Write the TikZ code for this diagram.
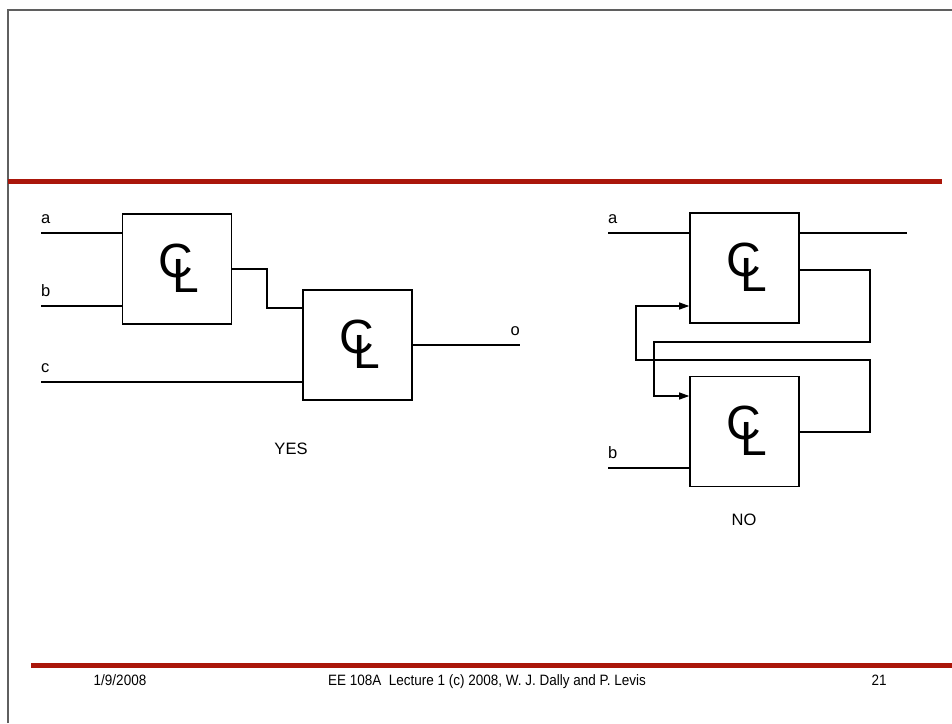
\documentclass[tikz,border=0pt]{standalone}
\usepackage{fontspec}
\setmainfont{Liberation Sans}
\usetikzlibrary{positioning,arrows.meta}

\definecolor{slidered}{RGB}{170,22,10}
\definecolor{framegray}{RGB}{95,95,95}

\tikzset{
  clbox/.style={draw, line width=1.6pt, minimum width=109pt, minimum height=110pt, inner sep=0pt},
  wire/.style={line width=1.1pt},
  fbwire/.style={wire, -{Triangle[length=10pt,width=7pt]}},
  lbl/.style={inner sep=0pt, font=\fontsize{16.5}{19}\selectfont},
  clfont/.style={inner sep=0pt, anchor=base west, font=\fontsize{48}{50}\selectfont},
  foot/.style={inner sep=0pt, anchor=base, font=\fontsize{15}{17}\selectfont, xscale=0.9},
}

% the C and L letters set over one another inside a box
\newcommand{\clglyph}[1]{%
  \node[clfont] (#1sym) at ([shift={(-18.4,8)}]#1.center) {C\kern-20.9pt\raisebox{-15.5pt}{L}};
}

\begin{document}
\begin{tikzpicture}[x=1pt,y=-1pt]
	\useasboundingbox (0,0) rectangle (952,723);

	% slide frame and bars
	\draw[framegray, line width=1.5pt] (8,723) -- (8,10) -- (952,10);
	\draw[slidered, line width=5pt] (8,181) -- (942,181);
	\draw[slidered, line width=5pt] (31,665.5) -- (952,665.5);

	% YES circuit
	\node[clbox] (cl1) at (177,269) {};
	\node[clbox] (cl2) at (357.5,345) {};
	\clglyph{cl1}
	\clglyph{cl2}

	\coordinate (ina) at (41,233);
	\coordinate (inb) at (41,306);
	\coordinate (inc) at (41,382);
	\coordinate (j1) at (267,308);
	\coordinate (outo) at (520,345);

	\draw[wire] (ina) -- (ina -| cl1.west);
	\draw[wire] (inb) -- (inb -| cl1.west);
	\draw[wire] (cl1.east) -| (j1) -- (j1 -| cl2.west);
	\draw[wire] (inc) -- (inc -| cl2.west);
	\draw[wire] (cl2.east) -- (outo);

	\node[lbl, above right=9pt and 0pt of ina] (la) {a};
	\node[lbl, above right=9pt and 0pt of inb] (lb) {b};
	\node[lbl, above right=9pt and 0pt of inc] (lc) {c};
	\node[lbl, above left=9pt and 0pt of outo] (lo) {o};
	\node[lbl] (yes) at (291,449) {YES};

	% NO circuit
	\node[clbox] (cl3) at (744.5,268) {};
	\node[clbox] (cl4) at (744.5,431.5) {};
	\clglyph{cl3}
	\clglyph{cl4}

	\coordinate (na) at (608,233);
	\coordinate (nb) at (608,468);
	\coordinate (nout) at (907,233);
	\coordinate (f1a) at (870,342);
	\coordinate (f1b) at (654,396);
	\coordinate (f2a) at (870,360);
	\coordinate (f2b) at (636,306);

	\draw[wire] (na) -- (na -| cl3.west);
	\draw[wire] (nout -| cl3.east) -- (nout);
	\draw[wire] (nb) -- (nb -| cl4.west);
	\draw[fbwire] (cl3.east |- 0,270) -| (f1a) -| (f1b) -- (f1b -| cl4.west);
	\draw[fbwire] (cl4.east |- 0,432) -| (f2a) -| (f2b) -- (f2b -| cl3.west);

	\node[lbl, above right=9pt and 0pt of na] (lna) {a};
	\node[lbl, above right=9pt and 0pt of nb] (lnb) {b};
	\node[lbl] (no) at (744,520) {NO};

	% footer
	\node[foot] (date) at (120,685) {1/9/2008};
	\node[foot] (title) at (487,685) {EE 108A\ \ Lecture 1 (c) 2008, W. J. Dally and P. Levis};
	\node[foot] (page) at (879,685) {21};
\end{tikzpicture}
\end{document}
